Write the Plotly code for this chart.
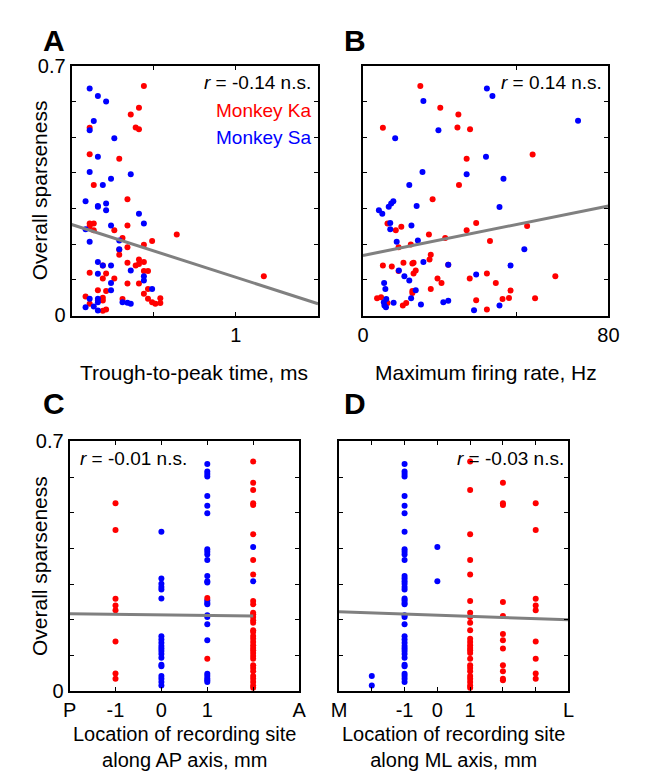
import plotly.graph_objects as go

# Panel A: trough-to-peak time (ms) vs sparseness
a_ka_x = [0.44, 0.41, 0.36, 0.39, 0.41, 0.11, 0.11, 0.29, 0.135, 0.34, 0.11, 0.135, 0.11, 0.135, 0.26, 0.34, 0.31, 0.64,
          0.49, 0.29, 0.29, 0.34, 0.44, 0.41, 0.41, 0.44, 0.39, 0.34, 0.19, 0.11, 0.21, 0.465, 0.44, 0.19, 0.26, 0.41,
          0.34, 1.17, 0.465, 0.44, 0.16, 0.21, 0.085, 0.11, 0.19, 0.19, 0.465, 0.49, 0.51, 0.54, 0.54, 0.31, 0.19, 0.21, 0.16]
a_ka_y = [0.643, 0.582, 0.563, 0.527, 0.522, 0.526, 0.452, 0.439, 0.366, 0.326, 0.258, 0.258, 0.250, 0.239, 0.239, 0.252,
          0.217, 0.227, 0.209, 0.184, 0.170, 0.191, 0.198, 0.157, 0.144, 0.150, 0.140, 0.148, 0.140, 0.120, 0.118, 0.125,
          0.125, 0.104, 0.104, 0.090, 0.090, 0.110, 0.074, 0.061, 0.071, 0.069, 0.053, 0.033, 0.050, 0.042, 0.047, 0.037,
          0.033, 0.048, 0.035, 0.046, 0.013, 0.017, 0.042]
a_sa_x = [0.11, 0.16, 0.21, 0.135, 0.11, 0.26, 0.16, 0.11, 0.24, 0.36, 0.19, 0.085, 0.16, 0.16, 0.21, 0.21, 0.41, 0.44,
          0.24, 0.085, 0.11, 0.29, 0.29, 0.16, 0.19, 0.24, 0.36, 0.16, 0.44, 0.44, 0.24, 0.24, 0.49, 0.16, 0.11, 0.16,
          0.31, 0.34, 0.36, 0.085, 0.135, 0.16]
a_sa_y = [0.636, 0.615, 0.600, 0.545, 0.519, 0.497, 0.445, 0.402, 0.383, 0.396, 0.366, 0.320, 0.307, 0.305, 0.314, 0.295,
          0.285, 0.258, 0.252, 0.242, 0.207, 0.210, 0.186, 0.150, 0.140, 0.140, 0.126, 0.117, 0.110, 0.098, 0.091, 0.071,
          0.074, 0.047, 0.047, 0.037, 0.037, 0.036, 0.033, 0.023, 0.025, 0.014]
a_fit_x = [0, 1.5]
a_fit_y = [0.255, 0.033]

# Panel B: maximum firing rate (Hz) vs sparseness
b_ka_x = [18.7, 25.2, 31.1, 6.5, 30.8, 34.9, 55.3, 33.8, 31.3, 22.7, 8.0, 10.7, 12.5, 36.9, 33.8, 53.5, 21.5, 26.8, 41.4,
          15.6, 11.6, 22.1, 21.7, 6.5, 9.4, 13.2, 16.1, 16.5, 27.8, 11.6, 16.5, 17.2, 24.3, 40.4, 34.8, 62.7, 22.1, 25.6,
          43.3, 48.1, 16.1, 16.1, 4.6, 5.9, 8.0, 13.0, 14.1, 36.9, 40.4, 45.5, 47.6, 56.1]
b_ka_y = [0.643, 0.582, 0.563, 0.526, 0.527, 0.522, 0.451, 0.439, 0.366, 0.326, 0.258, 0.239, 0.249, 0.259, 0.239, 0.251,
          0.227, 0.217, 0.209, 0.199, 0.191, 0.170, 0.157, 0.140, 0.137, 0.148, 0.146, 0.148, 0.142, 0.125, 0.118, 0.126,
          0.104, 0.118, 0.104, 0.110, 0.074, 0.091, 0.091, 0.070, 0.069, 0.063, 0.048, 0.051, 0.035, 0.028, 0.035, 0.043,
          0.017, 0.046, 0.049, 0.048]
b_sa_x = [40.4, 42.2, 19.7, 70.1, 24.6, 10.5, 40.1, 19.4, 33.8, 45.8, 15.1, 5.2, 6.3, 8.4, 9.2, 9.9, 17.5, 44.5, 8.9, 8.9,
          15.8, 17.9, 11.0, 52.6, 19.7, 27.8, 11.7, 13.5, 15.1, 36.9, 48.1, 6.9, 7.3, 17.2, 15.7, 7.6, 10.0, 6.8, 7.0, 7.5,
          18.9, 26.2, 27.8, 44.5, 36.2]
b_sa_y = [0.636, 0.615, 0.601, 0.546, 0.519, 0.497, 0.445, 0.402, 0.396, 0.383, 0.366, 0.295, 0.285, 0.305, 0.314, 0.320,
          0.307, 0.304, 0.259, 0.242, 0.252, 0.210, 0.207, 0.186, 0.150, 0.142, 0.126, 0.110, 0.098, 0.115, 0.140, 0.091,
          0.074, 0.071, 0.048, 0.046, 0.036, 0.037, 0.028, 0.023, 0.031, 0.037, 0.041, 0.028, 0.015]
b_fit_x = [0, 80]
b_fit_y = [0.168, 0.307]

# Panel C: AP location (mm)
c_ka = {-1: [0.527, 0.452, 0.259, 0.240, 0.227, 0.139, 0.050, 0.035],
        1: [0.261, 0.091],
        2: [0.644, 0.584, 0.564, 0.527, 0.522, 0.440, 0.368, 0.327, 0.253, 0.244, 0.220, 0.216, 0.208, 0.199, 0.192,
            0.171, 0.166, 0.155, 0.147, 0.138, 0.129, 0.121, 0.115, 0.107, 0.099, 0.091, 0.073, 0.065, 0.056, 0.043,
            0.035, 0.026, 0.016, 0.010]}
c_sa = {0: [0.447, 0.316, 0.301, 0.292, 0.285, 0.260, 0.154, 0.145, 0.136, 0.127, 0.120, 0.113, 0.104, 0.094, 0.074,
            0.070, 0.043, 0.035, 0.026, 0.016],
        1: [0.637, 0.616, 0.609, 0.602, 0.547, 0.520, 0.499, 0.398, 0.391, 0.383, 0.368, 0.323, 0.308, 0.305, 0.255,
            0.248, 0.244, 0.213, 0.208, 0.188, 0.143, 0.049, 0.043, 0.036, 0.031, 0.026],
        2: [0.404, 0.308]}
c_fit_x = [-2, 2]
c_fit_y = [0.217, 0.211]

# Panel D: ML location (mm)
d_ka = {1: [0.644, 0.564, 0.440, 0.368, 0.327, 0.253, 0.220, 0.208, 0.192, 0.171, 0.147, 0.138, 0.129, 0.121, 0.115,
            0.107, 0.091, 0.073, 0.065, 0.056, 0.043, 0.035, 0.026, 0.016, 0.010],
        2: [0.584, 0.527, 0.522, 0.250, 0.211, 0.160, 0.143, 0.120, 0.073, 0.056, 0.035, 0.031],
        3: [0.527, 0.452, 0.259, 0.240, 0.227, 0.139, 0.091, 0.050, 0.035]}
d_sa = {-2: [0.043, 0.016],
        -1: [0.637, 0.616, 0.609, 0.602, 0.547, 0.520, 0.499, 0.447, 0.398, 0.391, 0.383, 0.368, 0.323, 0.316, 0.308,
             0.301, 0.292, 0.285, 0.260, 0.255, 0.248, 0.244, 0.213, 0.208, 0.188, 0.154, 0.145, 0.136, 0.127, 0.120,
             0.113, 0.104, 0.094, 0.074, 0.070, 0.049, 0.043, 0.035, 0.026],
        0: [0.404, 0.308]}
d_fit_x = [-3, 4]
d_fit_y = [0.223, 0.200]

RED = "#ff0000"
BLUE = "#0000ff"
FONT = "Liberation Sans, Arial, sans-serif"

# the photographed page comes out slightly shrunk and offset, so place things in
# figure coordinates that land at the wanted spots on the picture
W, H, PAD = 630, 766, 8
S, CX, CY = 0.972, 6.5, 10.5


def px_x(x):
    return ((x - CX) / S - PAD) / W


def px_y(y):
    return 1 - ((y - CY) / S - PAD) / H


def flatten(d):
    xs, ys = [], []
    for k, v in d.items():
        xs += [k] * len(v)
        ys += v
    return xs, ys


def add_points(fig, xs, ys, color, n):
    fig.add_trace(go.Scatter(x=xs, y=ys, mode="markers", marker=dict(color=color, size=6),
                             xaxis="x" + n, yaxis="y" + n, showlegend=False))


def add_fit(fig, xs, ys, n):
    fig.add_trace(go.Scatter(x=xs, y=ys, mode="lines", line=dict(color="#808080", width=3),
                             xaxis="x" + n, yaxis="y" + n, showlegend=False))


fig = go.Figure()

# A
add_points(fig, a_ka_x, a_ka_y, RED, "")
add_points(fig, a_sa_x, a_sa_y, BLUE, "")
add_fit(fig, a_fit_x, a_fit_y, "")
# B
add_points(fig, b_ka_x, b_ka_y, RED, "2")
add_points(fig, b_sa_x, b_sa_y, BLUE, "2")
add_fit(fig, b_fit_x, b_fit_y, "2")
# C
cx_r, cy_r = flatten(c_ka)
cx_b, cy_b = flatten(c_sa)
add_points(fig, cx_b, cy_b, BLUE, "3")
add_points(fig, cx_r, cy_r, RED, "3")
add_fit(fig, c_fit_x, c_fit_y, "3")
# D
dx_r, dy_r = flatten(d_ka)
dx_b, dy_b = flatten(d_sa)
add_points(fig, dx_b, dy_b, BLUE, "4")
add_points(fig, dx_r, dy_r, RED, "4")
add_fit(fig, d_fit_x, d_fit_y, "4")

axis_common = dict(showline=True, linecolor="black", linewidth=2, mirror="ticks", ticks="inside",
                   ticklen=4, tickcolor="black", showgrid=False, zeroline=False,
                   tickfont=dict(size=20, color="black"))
yvals = [0, 0.1, 0.2, 0.3, 0.4, 0.5, 0.6, 0.7]
ytext = ["0", "", "", "", "", "", "", "0.7"]
yblank = [""] * 8

top = [px_y(315), px_y(65)]
bot = [px_y(691), px_y(441)]

fig.update_layout(
    width=W, height=H, margin=dict(l=0, r=0, t=0, b=0),
    plot_bgcolor="white", paper_bgcolor="white",
    font=dict(family=FONT, size=20, color="black"),
    xaxis=dict(axis_common, domain=[px_x(70), px_x(317)], range=[0, 1.5], anchor="y",
               tickvals=[0, 0.5, 1, 1.5], ticktext=["", "", "1", ""]),
    yaxis=dict(axis_common, domain=top, range=[0, 0.7], anchor="x", tickvals=yvals, ticktext=ytext),
    xaxis2=dict(axis_common, domain=[px_x(362), px_x(608)], range=[0, 80], anchor="y2",
                tickvals=[0, 50, 80], ticktext=["0", "", "80"]),
    yaxis2=dict(axis_common, domain=top, range=[0, 0.7], anchor="x2", tickvals=yvals, ticktext=yblank),
    xaxis3=dict(axis_common, domain=[px_x(68), px_x(298)], range=[-2, 3], anchor="y3",
                tickvals=[-2, -1, 0, 1, 2, 3], ticktext=["P", "-1", "0", "1", "", "A"]),
    yaxis3=dict(axis_common, domain=bot, range=[0, 0.7], anchor="x3", tickvals=yvals, ticktext=ytext),
    xaxis4=dict(axis_common, domain=[px_x(338), px_x(568)], range=[-3, 4], anchor="y4",
                tickvals=[-3, -2, -1, 0, 1, 2, 3, 4], ticktext=["M", "", "-1", "0", "1", "", "", "L"]),
    yaxis4=dict(axis_common, domain=bot, range=[0, 0.7], anchor="x4", tickvals=yvals, ticktext=yblank),
)


def paper(x, y, text, size=21, color="black", xanchor="center", yanchor="middle", angle=0):
    fig.add_annotation(x=px_x(x), y=px_y(y), xref="paper", yref="paper", text=text, showarrow=False,
                       font=dict(size=size, color=color, family=FONT), xanchor=xanchor, yanchor=yanchor,
                       textangle=angle)


# panel letters
for lx, ly, t in [(52, 40, "A"), (354, 40, "B"), (52, 403, "C"), (354, 403, "D")]:
    paper(lx, ly, "<b>" + t + "</b>", size=30)

# axis titles
paper(38, 190, "Overall sparseness", angle=-90)
paper(38, 566, "Overall sparseness", angle=-90)
paper(193, 372, "Trough-to-peak time, ms")
paper(485, 372, "Maximum firing rate, Hz")
paper(183, 747, "Location of recording site<br>along AP axis, mm", size=20)
paper(453, 747, "Location of recording site<br>along ML axis, mm", size=20)

# stats and legend
paper(312, 82, "<i>r</i> = -0.14 n.s.", size=19, xanchor="right")
paper(312, 110, "Monkey Ka", size=19, color=RED, xanchor="right")
paper(312, 137, "Monkey Sa", size=19, color=BLUE, xanchor="right")
paper(604, 82, "<i>r</i> = 0.14 n.s.", size=19, xanchor="right")
paper(76, 458, "<i>r</i> = -0.01 n.s.", size=19, xanchor="left")
paper(565, 458, "<i>r</i> = -0.03 n.s.", size=19, xanchor="right")

fig.write_html("out.html")
